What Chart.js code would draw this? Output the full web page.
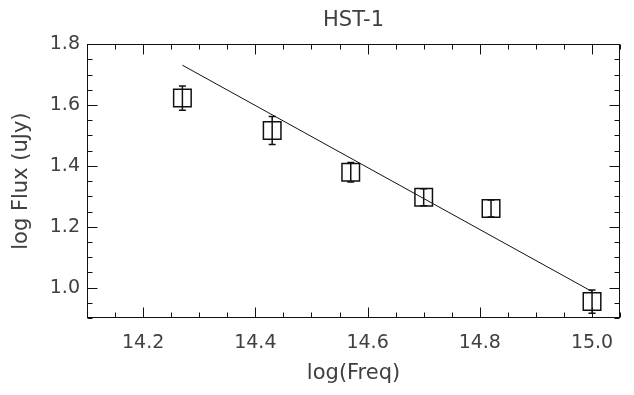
<!DOCTYPE html>
<html><head><meta charset="utf-8">
<script src="https://cdn.jsdelivr.net/npm/chart.js@4"></script>
<style>html,body{margin:0;padding:0;background:#fff;} canvas{display:block;}</style>
</head><body>
<canvas id="c" width="634" height="395"></canvas>
<script>
// ---- data ----
const logFreq = [14.27, 14.43, 14.57, 14.70, 14.82, 15.00];
const logFlux = [1.623, 1.516, 1.379, 1.297, 1.260, 0.954];
const fluxErr = [0.040, 0.046, 0.032, 0.028, 0.028, 0.038];
const fitFreq = [14.27, 15.00];
const fitFlux = [1.731, 0.987];
const xTicks = [14.2, 14.4, 14.6, 14.8, 15.0];
const yTicks = [1.0, 1.2, 1.4, 1.6, 1.8];
const xRange = [14.1, 15.05];
const yRange = [0.9, 1.8];
const minorStep = 0.05;
const chartTitle = 'HST-1';
const xTitle = 'log(Freq)';
const yTitle = 'log Flux (uJy)';

const FONT = 'DejaVu Sans';
const TXT = '#404040';
const INK = '#111';

const framePlugin = {
  id: 'frame',
  afterDatasetsDraw(chart) {
    const {ctx, chartArea: a, scales: {x, y}} = chart;
    ctx.save();
    ctx.strokeStyle = INK;
    ctx.lineWidth = 1;
    ctx.strokeRect(Math.round(a.left) + 0.5, Math.round(a.top) + 0.5,
                   Math.round(a.right - a.left) - 1, Math.round(a.bottom - a.top) - 1);
    const L = Math.round(a.left) + 0.5, R = Math.round(a.right) - 0.5;
    const T = Math.round(a.top) + 0.5, B = Math.round(a.bottom) - 0.5;
    ctx.beginPath();
    const isMajor = (v, arr) => arr.some(t => Math.abs(t - v) < 1e-6);
    let n = Math.round((xRange[1] - xRange[0]) / minorStep);
    for (let k = 0; k <= n; k++) {
      const v = xRange[0] + k * minorStep;
      const px = Math.round(x.getPixelForValue(v)) + 0.5;
      const len = isMajor(v, xTicks) ? 10 : 5;
      ctx.moveTo(px, B); ctx.lineTo(px, B - len);
      ctx.moveTo(px, T); ctx.lineTo(px, T + len);
    }
    n = Math.round((yRange[1] - yRange[0]) / minorStep);
    for (let k = 0; k <= n; k++) {
      const v = yRange[0] + k * minorStep;
      const py = Math.round(y.getPixelForValue(v)) + 0.5;
      const len = isMajor(v, yTicks) ? 10 : 5;
      ctx.moveTo(L, py); ctx.lineTo(L + len, py);
      ctx.moveTo(R, py); ctx.lineTo(R - len, py);
    }
    ctx.stroke();
    // error bars
    ctx.lineWidth = 1.5;
    ctx.beginPath();
    logFreq.forEach((f, i) => {
      const px = x.getPixelForValue(f);
      const y1 = y.getPixelForValue(logFlux[i] + fluxErr[i]);
      const y2 = y.getPixelForValue(logFlux[i] - fluxErr[i]);
      ctx.moveTo(px, y1); ctx.lineTo(px, y2);
      ctx.moveTo(px - 3.5, y1); ctx.lineTo(px + 3.5, y1);
      ctx.moveTo(px - 3.5, y2); ctx.lineTo(px + 3.5, y2);
    });
    ctx.stroke();
    ctx.restore();
  }
};

new Chart(document.getElementById('c'), {
  type: 'scatter',
  data: {
    datasets: [
      {
        data: logFreq.map((f, i) => ({x: f, y: logFlux[i]})),
        pointStyle: 'rect',
        pointRadius: 12.4,
        borderColor: INK,
        backgroundColor: 'rgba(0,0,0,0)',
        pointBorderWidth: 1.5,
        showLine: false
      },
      {
        type: 'line',
        data: fitFreq.map((f, i) => ({x: f, y: fitFlux[i]})),
        borderColor: INK,
        borderWidth: 1,
        pointRadius: 0,
        fill: false,
        showLine: true
      }
    ]
  },
  options: {
    responsive: false,
    animation: false,
    devicePixelRatio: 1,
    layout: {padding: {left: 0, right: 2, top: 0, bottom: 0}},
    plugins: {
      legend: {display: false},
      tooltip: {enabled: false},
      title: {
        display: true, text: chartTitle, color: TXT, fullSize: false,
        font: {family: FONT, size: 21, weight: 'normal'},
        padding: {top: 8, bottom: 11}
      }
    },
    scales: {
      x: {
        type: 'linear', position: 'bottom',
        min: xRange[0], max: xRange[1],
        afterBuildTicks: s => { s.ticks = xTicks.map(v => ({value: v})); },
        afterFit: s => { s.height = 77; s.paddingLeft = 0; s.paddingRight = 0; },
        grid: {display: false, drawTicks: false},
        border: {display: false},
        ticks: {color: TXT, padding: 14, font: {family: FONT, size: 19}, callback: v => Number(v).toFixed(1), maxRotation: 0},
        title: {display: true, text: xTitle, color: TXT, font: {family: FONT, size: 21}, padding: {top: 0, bottom: 9}}
      },
      y: {
        type: 'linear', position: 'left',
        min: yRange[0], max: yRange[1],
        afterBuildTicks: s => { s.ticks = yTicks.map(v => ({value: v})); },
        afterFit: s => { s.width = 87; s.paddingTop = 0; s.paddingBottom = 0; },
        grid: {display: false, drawTicks: false},
        border: {display: false},
        ticks: {color: TXT, padding: 7, font: {family: FONT, size: 19}, callback: v => Number(v).toFixed(1)},
        title: {display: true, text: yTitle, color: TXT, font: {family: FONT, size: 21}, padding: {top: 9, bottom: 0}}
      }
    }
  },
  plugins: [framePlugin]
});
</script>
</body></html>
